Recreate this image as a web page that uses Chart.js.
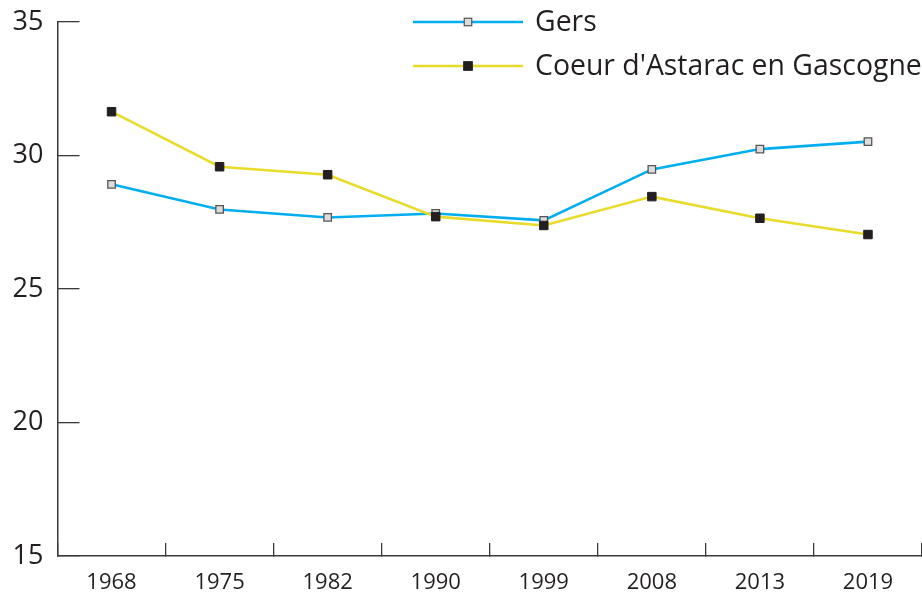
<!DOCTYPE html>
<html>
<head>
<meta charset="utf-8">
<script src="https://cdn.jsdelivr.net/npm/chart.js@4.4.1/dist/chart.umd.min.js"></script>
<style>
  html, body { margin: 0; padding: 0; background: #fff; }
  #wrap { width: 922px; height: 593px; }
</style>
</head>
<body>
<div id="wrap"><canvas id="ageChart" width="922" height="593"></canvas></div>
<script>
// Data
const years = ['1968', '1975', '1982', '1990', '1999', '2008', '2013', '2019'];
const gersValues = [28.92, 27.98, 27.68, 27.83, 27.57, 29.48, 30.24, 30.52];
const coeurValues = [31.64, 29.58, 29.28, 27.71, 27.38, 28.46, 27.65, 27.04];
const yTicks = [15, 20, 25, 30, 35];

const FONT = '"Open Sans", "Liberation Sans", sans-serif';
const AXIS_COLOR = '#3a3a3a';

// Legend drawn by hand: line sample with its marker in the middle, then the label
const lineLegend = {
    id: 'lineLegend',
    afterDraw(chart) {
        const c = chart.ctx;
        const rows = [22, 66];
        chart.data.datasets.forEach((ds, i) => {
            const y = rows[i];
            c.save();
            c.strokeStyle = ds.borderColor;
            c.lineWidth = ds.borderWidth;
            c.beginPath();
            c.moveTo(413, y);
            c.lineTo(523, y);
            c.stroke();
            const s = ds.legendBox;
            c.fillStyle = ds.pointBackgroundColor;
            c.fillRect(468 - s / 2, y - s / 2, s, s);
            c.strokeStyle = ds.pointBorderColor;
            c.lineWidth = 1.2;
            c.strokeRect(468 - s / 2, y - s / 2, s, s);
            c.fillStyle = '#231f20';
            c.font = '28.4px ' + FONT;
            c.textBaseline = 'middle';
            c.textAlign = 'left';
            c.fillText(ds.label, 535, y + 1);
            c.restore();
        });
    }
};

const ctx = document.getElementById('ageChart').getContext('2d');
const ageChart = new Chart(ctx, {
    type: 'line',
    data: {
        labels: years,
        datasets: [{
            label: 'Gers',
            data: gersValues,
            borderColor: '#00aeef',
            borderWidth: 2.6,
            pointStyle: 'rect',
            pointRadius: 5.3,
            pointBackgroundColor: '#dcdcdc',
            pointBorderColor: '#555555',
            pointBorderWidth: 1.3,
            legendBox: 7.5,
            order: 2,
            tension: 0
        }, {
            label: "Coeur d'Astarac en Gascogne",
            data: coeurValues,
            borderColor: '#e8dc2a',
            borderWidth: 2.6,
            pointStyle: 'rect',
            pointRadius: 6,
            pointBackgroundColor: '#231f20',
            pointBorderColor: '#231f20',
            pointBorderWidth: 1,
            legendBox: 8.5,
            order: 1,
            tension: 0
        }]
    },
    options: {
        responsive: false,
        animation: false,
        layout: { autoPadding: false, padding: { top: 22, right: 0, left: 0, bottom: 0 } },
        plugins: {
            legend: { display: false },
            tooltip: { enabled: false }
        },
        scales: {
            x: {
                offset: true,
                grid: {
                    offset: true,
                    drawOnChartArea: false,
                    drawTicks: true,
                    tickLength: -13,
                    color: AXIS_COLOR,
                    lineWidth: 1.3
                },
                border: { color: AXIS_COLOR, width: 1.5 },
                ticks: {
                    color: '#231f20',
                    font: { family: FONT, size: 22 },
                    padding: 27,
                    maxRotation: 0
                },
                afterFit: s => { s.height = 37; s.paddingLeft = 0; s.paddingRight = 0; }
            },
            y: {
                min: 15,
                max: 35,
                afterBuildTicks: s => { s.ticks = yTicks.map(v => ({ value: v })); },
                grid: {
                    drawOnChartArea: false,
                    drawTicks: true,
                    tickLength: -22,
                    color: AXIS_COLOR,
                    lineWidth: 1.3
                },
                border: { color: AXIS_COLOR, width: 1.5 },
                ticks: {
                    color: '#231f20',
                    font: { family: FONT, size: 27 },
                    padding: 36
                },
                afterFit: s => { s.width = 57.5; s.paddingTop = 0; s.paddingBottom = 0; }
            }
        }
    },
    plugins: [lineLegend]
});
</script>
</body>
</html>
